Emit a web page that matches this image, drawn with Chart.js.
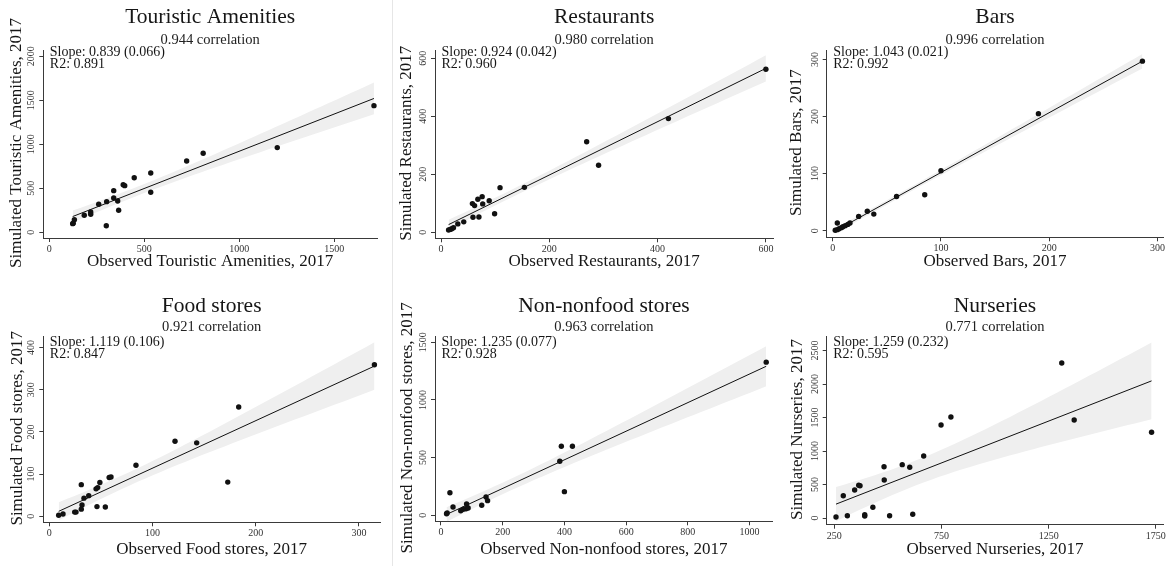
<!DOCTYPE html>
<html>
<head>
<meta charset="utf-8">
<title>Observed vs simulated amenities, 2017</title>
<script src="https://cdn.jsdelivr.net/npm/chart.js@4.4.0/dist/chart.umd.min.js"></script>
<style>
  body { margin: 0; background: #fff; }
  #wrap { position: relative; width: 1170px; height: 566px; overflow: hidden; }
  .panel { position: absolute; width: 390px; height: 283px; }
  .sep { position: absolute; left: 392px; top: 0; width: 1px; height: 566px; background: #e6e6e6; }
</style>
</head>
<body>
<div id="wrap">
  <div class="panel" style="left:0;top:0"><canvas id="c0" width="390" height="283"></canvas></div>
  <div class="panel" style="left:390px;top:0"><canvas id="c1" width="390" height="283"></canvas></div>
  <div class="panel" style="left:780px;top:0"><canvas id="c2" width="390" height="283"></canvas></div>
  <div class="panel" style="left:0;top:283px"><canvas id="c3" width="390" height="283"></canvas></div>
  <div class="panel" style="left:390px;top:283px"><canvas id="c4" width="390" height="283"></canvas></div>
  <div class="panel" style="left:780px;top:283px"><canvas id="c5" width="390" height="283"></canvas></div>
  <div class="sep"></div>
</div>
<script>
// ---------------------------------------------------------------------------
// Data (observed x, simulated y)
// ---------------------------------------------------------------------------
const touristicObs = [1709, 1200, 810, 723, 534, 447, 389, 397, 339, 534, 339, 302, 260, 360, 365, 218, 218, 184, 132, 126, 123, 300];
const touristicSim = [1439, 962, 898, 810, 674, 620, 541, 530, 473, 455, 390, 348, 318, 356, 250, 231, 205, 193, 143, 102, 98, 75];

const restaurantsObs = [600, 420, 291, 269, 154, 109, 76, 68, 89, 58, 62, 77, 99, 59, 70, 42, 31, 23, 20, 17, 14];
const restaurantsSim = [562, 392, 231, 312, 155, 154, 123, 114, 109, 99, 92, 98, 64, 52, 53, 36, 29, 16, 12, 10, 8];

const barsObs = [286, 190, 100, 85, 59, 38, 32, 24, 4.3, 16, 14, 11.6, 9.5, 8, 6, 4.3, 2.4];
const barsSim = [297, 205, 105, 63, 60, 29, 34, 25, 13.5, 13.5, 11, 8.8, 7, 5.3, 3.5, 1.8, 0.7];

const foodObs = [315, 183.5, 172.9, 142.8, 121.8, 84, 58, 59.8, 49, 31, 45.3, 46.9, 38.2, 33.6, 31.7, 31, 46.2, 54.3, 24.6, 25.9, 13.3, 9.1];
const foodSim = [359, 259, 81, 174, 178, 121, 92, 93, 80, 75, 65, 68, 49, 43, 27, 17, 23, 22, 10, 10, 5.5, 2.4];

const nonfoodObs = [1054, 426, 390, 385, 400, 29, 146, 151, 132, 39, 83, 88, 81, 72, 64, 20, 18];
const nonfoodSim = [1327, 598, 598, 468, 205, 196, 159, 127, 87, 72, 98, 63, 57, 52, 40, 20, 14];

const nurseriesObs = [1730, 1369, 1311, 794, 748, 667, 567, 602, 482, 483, 364, 370, 345, 292, 430, 392, 392, 311, 258, 508, 616];
const nurseriesSim = [1279, 1463, 2313, 1507, 1388, 925, 796, 757, 766, 567, 488, 482, 418, 333, 160, 49, 30, 34, 15, 34, 55];

// Tick labels
const touristicXTicks = [0, 500, 1000, 1500];
const touristicYTicks = [0, 500, 1000, 1500, 2000];
const restaurantsXTicks = [0, 200, 400, 600];
const restaurantsYTicks = [0, 200, 400, 600];
const barsXTicks = [0, 100, 200, 300];
const barsYTicks = [0, 100, 200, 300];
const foodXTicks = [0, 100, 200, 300];
const foodYTicks = [0, 100, 200, 300, 400];
const nonfoodXTicks = [0, 200, 400, 600, 800, 1000];
const nonfoodYTicks = [0, 500, 1000, 1500];
const nurseriesXTicks = [250, 750, 1250, 1750];
const nurseriesYTicks = [0, 500, 1000, 1500, 2000, 2500];

// Texts
const panelTitles = ['Touristic Amenities', 'Restaurants', 'Bars', 'Food stores', 'Non-nonfood stores', 'Nurseries'];
const correlations = ['0.944 correlation', '0.980 correlation', '0.996 correlation', '0.921 correlation', '0.963 correlation', '0.771 correlation'];
const slopeLabels = ['Slope: 0.839 (0.066)', 'Slope: 0.924 (0.042)', 'Slope: 1.043 (0.021)', 'Slope: 1.119 (0.106)', 'Slope: 1.235 (0.077)', 'Slope: 1.259 (0.232)'];
const r2Labels = ['R2: 0.891', 'R2: 0.960', 'R2: 0.992', 'R2: 0.847', 'R2: 0.928', 'R2: 0.595'];

// ---------------------------------------------------------------------------
const SERIF = '"Liberation Serif", "Times New Roman", serif';
const INK = '#161616';
const AXIS = '#3a3a3a';
const TICK_SIZE = 10;

// plot box for each panel (left, right, top, bottom) and axis ranges
const panels = [
    { obs: touristicObs, sim: touristicSim, xt: touristicXTicks, yt: touristicYTicks, name: 'Touristic Amenities',
      box: [43.3, 377, 50, 238], xr: [-31.6, 1725], yr: [-65, 2071] },
    { obs: restaurantsObs, sim: restaurantsSim, xt: restaurantsXTicks, yt: restaurantsYTicks, name: 'Restaurants',
      box: [45, 383.3, 50, 238.3], xr: [-11.1, 613.7], yr: [-20.7, 628.6] },
    { obs: barsObs, sim: barsSim, xt: barsXTicks, yt: barsYTicks, name: 'Bars',
      box: [46.7, 383.3, 50, 237.3], xr: [-5.5, 305.3], yr: [-11.6, 316.5] },
    { obs: foodObs, sim: foodSim, xt: foodXTicks, yt: foodYTicks, name: 'Food stores',
      box: [43.3, 380, 53.3, 239.3], xr: [-5.8, 320.4], yr: [-14.2, 426.5] },
    { obs: nonfoodObs, sim: nonfoodSim, xt: nonfoodXTicks, yt: nonfoodYTicks, name: 'Non-nonfood stores',
      box: [45, 382.7, 53.3, 238.3], xr: [-19.4, 1075], yr: [-52, 1551] },
    { obs: nurseriesObs, sim: nurseriesSim, xt: nurseriesXTicks, yt: nurseriesYTicks, name: 'Nurseries',
      box: [46.7, 383.3, 53.3, 241.7], xr: [214.6, 1784.7], yr: [-100, 2712] }
];

/**
 * Linear fit with 95% confidence band of the mean prediction
 */
function linearFit(xs, ys) {
    const n = xs.length;
    const mx = xs.reduce((s, v) => s + v, 0) / n;
    const my = ys.reduce((s, v) => s + v, 0) / n;
    let sxx = 0, sxy = 0;
    for (let i = 0; i < n; i++) {
        sxx += (xs[i] - mx) * (xs[i] - mx);
        sxy += (xs[i] - mx) * (ys[i] - my);
    }
    const b = sxy / sxx;
    const a = my - b * mx;
    let sse = 0;
    for (let i = 0; i < n; i++) sse += Math.pow(ys[i] - a - b * xs[i], 2);
    const s2 = sse / (n - 2);
    const t = 1.96 + 2.4 / (n - 2);
    const lo = Math.min(...xs), hi = Math.max(...xs);
    const upper = [], lower = [];
    const steps = 40;
    for (let k = 0; k <= steps; k++) {
        const xv = lo + (hi - lo) * k / steps;
        const se = Math.sqrt(s2 * (1 / n + (xv - mx) * (xv - mx) / sxx));
        upper.push({ x: xv, y: a + b * xv + t * se });
        lower.push({ x: xv, y: a + b * xv - t * se });
    }
    return { line: [{ x: lo, y: a + b * lo }, { x: hi, y: a + b * hi }], upper, lower };
}

// y title + slope / R2 text
const panelText = {
    id: 'panelText',
    afterDraw(chart, args, opts) {
        const { ctx, chartArea: a } = chart;
        ctx.save();
        ctx.fillStyle = INK;
        ctx.font = '17px ' + SERIF;
        ctx.textAlign = 'center';
        ctx.textBaseline = 'middle';
        ctx.translate(opts.yTitleX, (a.top + a.bottom) / 2 - 1);
        ctx.rotate(-Math.PI / 2);
        ctx.fillText(opts.yTitle, 0, 0);
        ctx.restore();

        ctx.save();
        ctx.fillStyle = INK;
        ctx.font = '14px ' + SERIF;
        ctx.textAlign = 'left';
        ctx.textBaseline = 'alphabetic';
        ctx.fillText(opts.slope, a.left + 6.5, opts.base1);
        ctx.fillText(opts.r2, a.left + 6.5, opts.base2);
        ctx.restore();
    }
};

const measureCtx = document.createElement('canvas').getContext('2d');
measureCtx.font = TICK_SIZE + 'px ' + SERIF;

panels.forEach((p, i) => {
    const topRow = i < 3;
    const [L, R, T, B] = p.box;
    const fit = linearFit(p.obs, p.sim);
    const pts = p.obs.map((v, k) => ({ x: v, y: p.sim[k] }));
    const widest = Math.max(...p.yt.map(v => measureCtx.measureText(String(v)).width));

    new Chart(document.getElementById('c' + i), {
        type: 'scatter',
        data: {
            datasets: [
                { type: 'line', data: fit.upper, fill: '+1', backgroundColor: '#efefef',
                  borderWidth: 0, pointRadius: 0, order: 3 },
                { type: 'line', data: fit.lower, fill: false, borderWidth: 0, pointRadius: 0, order: 3 },
                { type: 'line', data: fit.line, fill: false, borderColor: '#111', borderWidth: 1,
                  pointRadius: 0, order: 2 },
                { data: pts, backgroundColor: '#111', pointRadius: 2.7, borderWidth: 0, order: 1 }
            ]
        },
        options: {
            responsive: false,
            animation: false,
            devicePixelRatio: 1,
            layout: { padding: { left: 0, right: 390 - R, top: 0, bottom: 0 } },
            plugins: {
                legend: { display: false },
                tooltip: { enabled: false },
                title: {
                    display: true, text: panelTitles[i], fullSize: false, color: INK,
                    font: { family: SERIF, size: 21.5, weight: 'normal', lineHeight: 1.1 },
                    padding: { top: topRow ? 5.5 : 11.2, bottom: 0 }
                },
                subtitle: {
                    display: true, text: correlations[i], fullSize: false, color: '#222',
                    font: { family: SERIF, size: 14.5, weight: 'normal', lineHeight: 1.1 },
                    padding: { top: topRow ? 2.9 : 1.5, bottom: topRow ? 2.0 : 1.0 }
                },
                panelText: {
                    yTitle: 'Simulated ' + p.name + ', 2017',
                    yTitleX: topRow ? 17 : 17.5,
                    slope: slopeLabels[i],
                    r2: r2Labels[i],
                    base1: topRow ? 55.5 : 63,
                    base2: topRow ? 67.5 : 75
                }
            },
            scales: {
                x: {
                    type: 'linear',
                    min: p.xr[0], max: p.xr[1],
                    afterBuildTicks: s => { s.ticks = p.xt.map(v => ({ value: v })); },
                    afterFit: s => { s.height = 283 - B; },
                    grid: { display: true, drawOnChartArea: false, drawTicks: true, tickLength: 4, color: AXIS, lineWidth: 1 },
                    border: { display: true, color: AXIS, width: 1 },
                    ticks: { autoSkip: false, maxRotation: 0, padding: 1.5, color: '#333',
                             font: { family: SERIF, size: TICK_SIZE }, callback: v => String(v) },
                    title: { display: true, text: 'Observed ' + p.name + ', 2017', color: INK,
                             font: { family: SERIF, size: 17, weight: 'normal' },
                             padding: { top: 0, bottom: topRow ? 11.1 : 6.1 } }
                },
                y: {
                    type: 'linear',
                    min: p.yr[0], max: p.yr[1],
                    afterBuildTicks: s => { s.ticks = p.yt.map(v => ({ value: v })); },
                    afterFit: s => { s.width = L; },
                    grid: { display: true, drawOnChartArea: false, drawTicks: true, tickLength: 4, color: AXIS, lineWidth: 1 },
                    border: { display: true, color: AXIS, width: 1 },
                    ticks: { autoSkip: false, minRotation: 90, maxRotation: 90, crossAlign: 'center',
                             padding: 11.5 - 4 - widest / 2, color: '#333',
                             font: { family: SERIF, size: TICK_SIZE }, callback: v => String(v) }
                }
            }
        },
        plugins: [panelText]
    });
});
</script>
</body>
</html>
